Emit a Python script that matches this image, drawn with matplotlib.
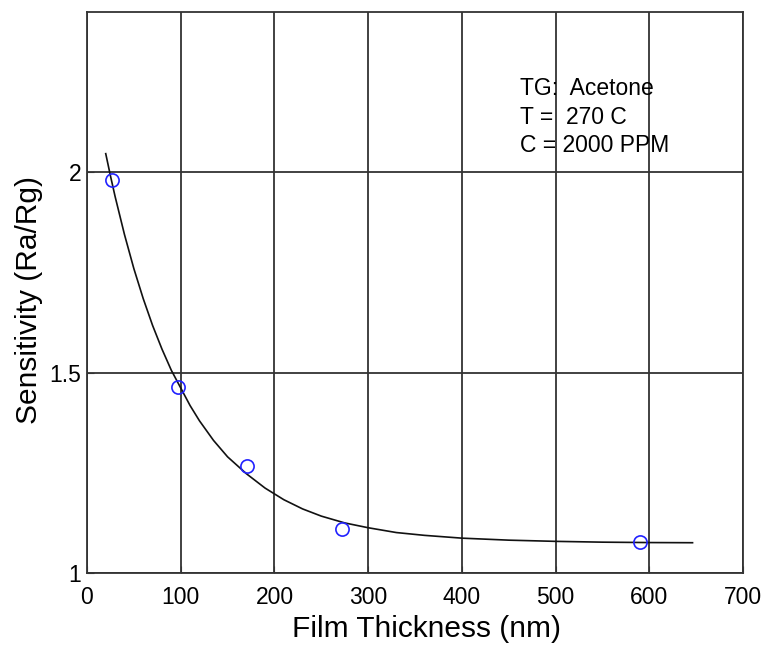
import matplotlib
matplotlib.use("Agg")
import matplotlib.pyplot as plt

# measured points
thickness = [27, 97, 171, 272, 590]
sensitivity = [1.982, 1.464, 1.267, 1.109, 1.078]

# fitted curve
curve_x = [20, 25, 30, 40, 50, 60, 70, 80, 90, 100, 110, 120, 135, 150, 170,
           190, 210, 230, 250, 275, 300, 330, 360, 400, 450, 500, 550, 600, 646]
curve_y = [2.047, 1.992, 1.940, 1.845, 1.760, 1.685, 1.618, 1.559, 1.506, 1.462,
           1.418, 1.380, 1.331, 1.290, 1.248, 1.212, 1.183, 1.160, 1.142, 1.125,
           1.113, 1.101, 1.094, 1.087, 1.082, 1.079, 1.077, 1.076, 1.0756]

x_ticks = [0, 100, 200, 300, 400, 500, 600, 700]
y_ticks = [1, 1.5, 2]
y_tick_labels = ["1", "1.5", "2"]
annot = ["TG:  Acetone", "T =  270 C", "C = 2000 PPM"]

plt.rcParams['font.family'] = ['Liberation Sans', 'DejaVu Sans']

fig = plt.figure(figsize=(7.63, 6.46), dpi=100)
ax = fig.add_axes([0.114, 0.113, 0.860, 0.868])

ax.plot(curve_x, curve_y, color='#111111', lw=1.2, zorder=3)
ax.plot(thickness, sensitivity, 'o', mfc='none', mec='#2222ff', ms=9.5, mew=1.2, zorder=4)

ax.set_xlim(0, 700)
ax.set_ylim(1, 2.4)
ax.set_xticks(x_ticks)
ax.set_yticks(y_ticks)
ax.set_yticklabels(y_tick_labels)
ax.grid(True, color='#333333', lw=1.3)
ax.tick_params(direction='in', labelsize=16.5, length=5, color='#333333')
ax.tick_params(axis='x', pad=9.5)
ax.tick_params(axis='y', pad=4)
for s in ax.spines.values():
    s.set_color('#333333')
    s.set_linewidth(1.3)

ax.set_xlabel("Film Thickness (nm)", fontsize=21.5, labelpad=5)
ax.set_ylabel("Sensitivity (Ra/Rg)", fontsize=21.5, labelpad=5)
ax.xaxis.set_label_coords(0.518, -0.075)
ax.yaxis.label.set_y(0.486)

ys = [2.21, 2.137, 2.067]
for t, y in zip(annot, ys):
    ax.text(462, y, t, fontsize=16.5, va='center', ha='left')

fig.savefig("out.png", dpi=100)
